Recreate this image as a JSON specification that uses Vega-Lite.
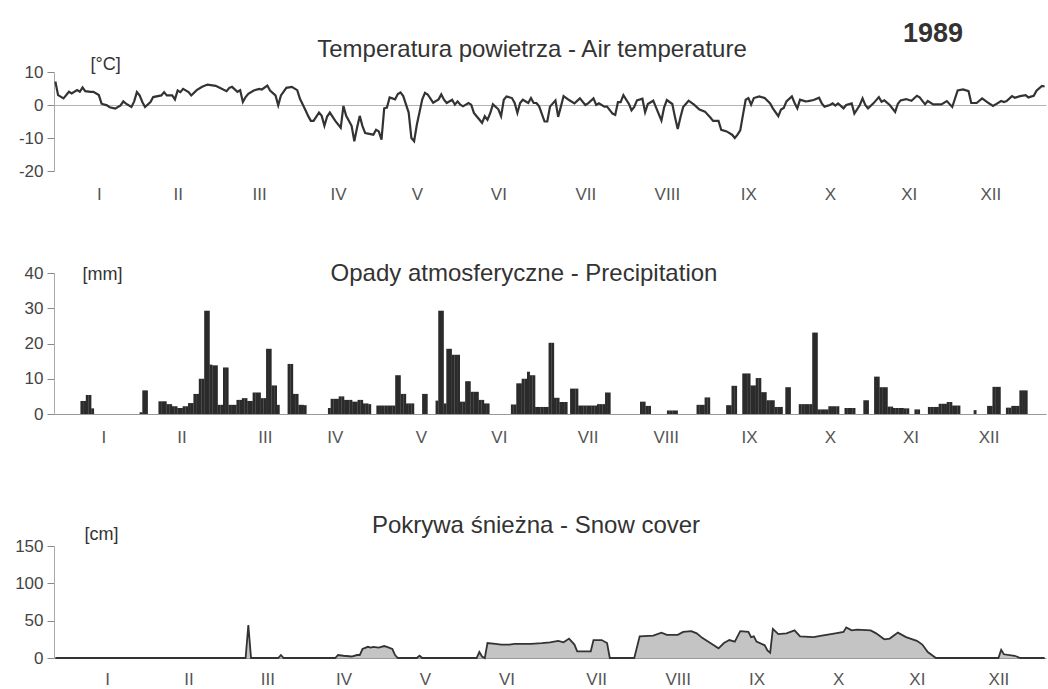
{
  "$schema": "https://vega.github.io/schema/vega-lite/v6.json",
  "background": "white",
  "padding": {"left": 14, "top": 20, "right": 0, "bottom": 0},
  "title": {"text": "1989", "anchor": "end", "fontSize": 27, "fontWeight": "bold", "color": "#333", "dx": -86, "offset": -10},
  "config": {
    "font": "Liberation Sans",
    "view": {"stroke": null},
    "title": {"fontSize": 24, "fontWeight": "normal", "color": "#333", "anchor": "middle"},
    "axis": {"labelFontSize": 17, "labelColor": "#444", "grid": false, "domainColor": "#aaa", "tickColor": "#888", "titleFontWeight": "normal", "titleFontSize": 18, "titleColor": "#333", "labelOverlap": false}
  },
  "spacing": 60,
  "datasets": {
    "temp": [
      {"day":1,"t":7.1},{"day":2,"t":3.0},{"day":4,"t":2.0},{"day":6,"t":4.0},{"day":7,"t":3.5},{"day":9,"t":4.5},{"day":10,"t":4.0},{"day":11,"t":5.3},{"day":12,"t":4.2},{"day":14,"t":4.0},{"day":15,"t":4.0},{"day":17,"t":3.0},{"day":18,"t":0.4},{"day":20,"t":-0.1},{"day":21,"t":-0.7},{"day":23,"t":-1.1},{"day":25,"t":-0.1},{"day":26,"t":1.1},{"day":27,"t":0.4},{"day":29,"t":-0.6},{"day":30,"t":1.1},{"day":31,"t":3.9},{"day":32,"t":2.9},{"day":33,"t":0.9},{"day":34,"t":-0.6},{"day":36,"t":0.9},{"day":37,"t":2.4},{"day":40,"t":2.9},{"day":41,"t":3.9},{"day":42,"t":2.9},{"day":44,"t":2.9},{"day":45,"t":1.7},{"day":46,"t":4.4},{"day":47,"t":3.9},{"day":48,"t":4.9},{"day":50,"t":3.9},{"day":51,"t":2.9},{"day":53,"t":4.5},{"day":55,"t":5.5},{"day":57,"t":6.2},{"day":60,"t":5.8},{"day":62,"t":5.0},{"day":64,"t":4.2},{"day":65,"t":5.2},{"day":66,"t":5.5},{"day":68,"t":4.0},{"day":69,"t":4.5},{"day":70,"t":0.9},{"day":71,"t":2.4},{"day":72,"t":3.4},{"day":74,"t":4.4},{"day":76,"t":4.9},{"day":77,"t":4.7},{"day":79,"t":5.9},{"day":80,"t":4.4},{"day":82,"t":2.9},{"day":83,"t":-0.1},{"day":84,"t":2.9},{"day":86,"t":5.2},{"day":88,"t":5.5},{"day":90,"t":4.5},{"day":91,"t":1.9},{"day":93,"t":-1.5},{"day":94,"t":-3.3},{"day":95,"t":-4.8},{"day":96,"t":-4.8},{"day":98,"t":-2.3},{"day":99,"t":-3.3},{"day":100,"t":-6.3},{"day":101,"t":-3.5},{"day":102,"t":-2.3},{"day":104,"t":-4.8},{"day":106,"t":-6.9},{"day":107,"t":-0.3},{"day":108,"t":-3.3},{"day":110,"t":-6.3},{"day":111,"t":-11},{"day":112,"t":-6.9},{"day":113,"t":-3.3},{"day":114,"t":-6.4},{"day":115,"t":-8.5},{"day":118,"t":-9},{"day":119,"t":-7.5},{"day":120,"t":-8},{"day":121,"t":-10.5},{"day":122,"t":-1},{"day":123,"t":-0.8},{"day":124,"t":2.3},{"day":126,"t":1.7},{"day":127,"t":3.3},{"day":128,"t":3.8},{"day":129,"t":2.7},{"day":131,"t":-2.3},{"day":132,"t":-10},{"day":133,"t":-11},{"day":134,"t":-6},{"day":136,"t":1.7},{"day":137,"t":3.7},{"day":138,"t":3.2},{"day":140,"t":0.7},{"day":142,"t":1.7},{"day":143,"t":3.2},{"day":144,"t":1.6},{"day":145,"t":0.6},{"day":147,"t":1.6},{"day":148,"t":0.1},{"day":149,"t":1.1},{"day":150,"t":0.1},{"day":151,"t":-0.4},{"day":153,"t":0.6},{"day":154,"t":0.1},{"day":155,"t":-2.4},{"day":156,"t":-3.4},{"day":158,"t":-5.4},{"day":159,"t":-3.4},{"day":160,"t":-4.5},{"day":161,"t":-2.5},{"day":162,"t":0.2},{"day":164,"t":-1.3},{"day":165,"t":-3.4},{"day":166,"t":1.6},{"day":167,"t":2.6},{"day":169,"t":2.1},{"day":170,"t":0.6},{"day":171,"t":-2.4},{"day":172,"t":0.6},{"day":173,"t":1.6},{"day":175,"t":0.6},{"day":176,"t":2.1},{"day":177,"t":0.6},{"day":178,"t":0.6},{"day":179,"t":-0.4},{"day":181,"t":-5},{"day":182,"t":-5},{"day":183,"t":-0.5},{"day":185,"t":1.4},{"day":186,"t":-3.6},{"day":187,"t":-0.5},{"day":188,"t":2.7},{"day":190,"t":1.5},{"day":192,"t":0.5},{"day":194,"t":2.0},{"day":196,"t":0},{"day":197,"t":0.5},{"day":199,"t":2.0},{"day":200,"t":0},{"day":201,"t":0.5},{"day":203,"t":-0.5},{"day":204,"t":-0.5},{"day":206,"t":-2.6},{"day":207,"t":-3},{"day":208,"t":0.9},{"day":209,"t":0.9},{"day":210,"t":3},{"day":212,"t":0.4},{"day":213,"t":-1.6},{"day":214,"t":-0.6},{"day":215,"t":1.4},{"day":217,"t":1.9},{"day":218,"t":-2.2},{"day":219,"t":0.3},{"day":221,"t":1.3},{"day":222,"t":-0.7},{"day":224,"t":-4.7},{"day":225,"t":-0.7},{"day":226,"t":1.5},{"day":228,"t":0.3},{"day":229,"t":-3.7},{"day":230,"t":-7.3},{"day":231,"t":-3.7},{"day":232,"t":-0.6},{"day":234,"t":1.3},{"day":236,"t":0.1},{"day":238,"t":-1.4},{"day":240,"t":-2},{"day":242,"t":-3.8},{"day":243,"t":-4.8},{"day":245,"t":-4.8},{"day":246,"t":-7.5},{"day":248,"t":-8},{"day":250,"t":-9},{"day":251,"t":-10},{"day":252,"t":-9},{"day":253,"t":-7.7},{"day":254,"t":-3},{"day":255,"t":1.6},{"day":256,"t":2.1},{"day":257,"t":0.1},{"day":258,"t":2.1},{"day":260,"t":2.6},{"day":262,"t":2.1},{"day":264,"t":0.5},{"day":265,"t":-1},{"day":267,"t":-3.4},{"day":268,"t":-1.4},{"day":269,"t":-0.9},{"day":270,"t":1.1},{"day":272,"t":2.6},{"day":273,"t":0.6},{"day":274,"t":-1},{"day":275,"t":1.6},{"day":277,"t":1.1},{"day":278,"t":1.2},{"day":280,"t":1.5},{"day":282,"t":2.2},{"day":283,"t":0.5},{"day":284,"t":-0.5},{"day":286,"t":0},{"day":287,"t":0.5},{"day":288,"t":-0.2},{"day":289,"t":0.5},{"day":291,"t":-1},{"day":292,"t":0},{"day":294,"t":0.5},{"day":295,"t":-2.6},{"day":297,"t":0},{"day":298,"t":2},{"day":299,"t":0},{"day":300,"t":-1},{"day":302,"t":0.5},{"day":304,"t":2.4},{"day":305,"t":1},{"day":306,"t":1.4},{"day":308,"t":0},{"day":310,"t":-2.1},{"day":311,"t":0.4},{"day":312,"t":1.4},{"day":314,"t":1.8},{"day":316,"t":1.3},{"day":318,"t":2.8},{"day":319,"t":2.3},{"day":321,"t":0.2},{"day":322,"t":1.2},{"day":324,"t":0.2},{"day":325,"t":0.2},{"day":327,"t":0.2},{"day":329,"t":1.2},{"day":331,"t":-0.6},{"day":332,"t":1.9},{"day":333,"t":4.4},{"day":335,"t":4.7},{"day":337,"t":4.2},{"day":338,"t":0.6},{"day":340,"t":0.6},{"day":342,"t":2.0},{"day":344,"t":0.8},{"day":346,"t":-0.3},{"day":347,"t":0.2},{"day":349,"t":1.2},{"day":350,"t":0.9},{"day":351,"t":1.2},{"day":353,"t":2.7},{"day":354,"t":2.2},{"day":356,"t":2.7},{"day":358,"t":3},{"day":359,"t":2.3},{"day":361,"t":2.8},{"day":362,"t":4.3},{"day":364,"t":5.8},{"day":365,"t":5.6}
    ],
    "precip": [
      {"day":9,"p":3.7},{"day":10,"p":3.7},{"day":11,"p":5.4},{"day":12,"p":5.4},{"day":13,"p":1.6},
      {"day":31,"p":0.5},{"day":32,"p":6.7},{"day":33,"p":6.7},
      {"day":38,"p":3.6},{"day":39,"p":3.6},{"day":40,"p":3.6},{"day":41,"p":2.8},{"day":42,"p":2.8},{"day":43,"p":2.2},{"day":44,"p":2.2},{"day":45,"p":1.7},{"day":46,"p":1.7},{"day":47,"p":2.2},{"day":48,"p":2.2},{"day":49,"p":3.1},{"day":50,"p":3.1},{"day":51,"p":5.7},{"day":52,"p":5.7},{"day":53,"p":10},{"day":54,"p":10},{"day":55,"p":29.3},{"day":56,"p":29.3},{"day":57,"p":14},{"day":58,"p":13.8},{"day":59,"p":13.8},{"day":60,"p":2.6},{"day":61,"p":2.6},{"day":62,"p":13.2},{"day":63,"p":13.2},{"day":64,"p":2.6},{"day":65,"p":2.6},{"day":66,"p":2.6},{"day":67,"p":4},{"day":68,"p":4},{"day":69,"p":4.5},{"day":70,"p":4.5},{"day":71,"p":3.7},{"day":72,"p":3.7},{"day":73,"p":6.1},{"day":74,"p":6.1},{"day":75,"p":6.1},{"day":76,"p":4.5},{"day":77,"p":4.5},{"day":78,"p":18.5},{"day":79,"p":18.5},{"day":80,"p":8.1},{"day":81,"p":8.1},{"day":82,"p":2.6},
      {"day":86,"p":14.2},{"day":87,"p":14.2},{"day":88,"p":5.7},{"day":89,"p":5.7},{"day":90,"p":2.6},{"day":91,"p":2.6},{"day":92,"p":2.5},
      {"day":101,"p":1.7},{"day":102,"p":4.3},{"day":103,"p":4.3},{"day":104,"p":4.3},{"day":105,"p":5},{"day":106,"p":5},{"day":107,"p":4},{"day":108,"p":4},{"day":109,"p":4},{"day":110,"p":3.5},{"day":111,"p":3.5},{"day":112,"p":4},{"day":113,"p":4},{"day":114,"p":3},{"day":115,"p":3},{"day":116,"p":2.8},
      {"day":119,"p":2.4},{"day":120,"p":2.4},{"day":121,"p":2.4},{"day":122,"p":2.4},{"day":123,"p":2.4},{"day":124,"p":2.4},{"day":125,"p":2.4},
      {"day":126,"p":11},{"day":127,"p":11},{"day":128,"p":5.7},{"day":129,"p":5.7},{"day":130,"p":3},{"day":131,"p":3},{"day":132,"p":3},
      {"day":136,"p":5.7},{"day":137,"p":5.7},
      {"day":141,"p":3.8},{"day":142,"p":29.3},{"day":143,"p":29.3},{"day":144,"p":3},{"day":145,"p":18.5},{"day":146,"p":18.5},{"day":147,"p":16.8},{"day":148,"p":16.8},{"day":149,"p":16.8},{"day":150,"p":3.5},{"day":151,"p":3.5},{"day":152,"p":9.3},{"day":153,"p":9.3},{"day":154,"p":6.3},{"day":155,"p":6.3},{"day":156,"p":6.3},{"day":157,"p":4},{"day":158,"p":4},{"day":159,"p":3},{"day":160,"p":3},
      {"day":169,"p":2.7},{"day":170,"p":2.7},{"day":171,"p":8.7},{"day":172,"p":8.7},{"day":173,"p":10},{"day":174,"p":10},{"day":175,"p":12},{"day":176,"p":11},{"day":177,"p":11},
      {"day":178,"p":2},{"day":179,"p":2},{"day":180,"p":2},{"day":181,"p":2},{"day":182,"p":2},{"day":183,"p":20.2},{"day":184,"p":20.2},{"day":185,"p":4.6},{"day":186,"p":4.6},{"day":187,"p":3.4},{"day":188,"p":3.4},{"day":189,"p":3.4},
      {"day":191,"p":7.2},{"day":192,"p":7.2},{"day":193,"p":7.2},{"day":194,"p":2.4},{"day":195,"p":2.4},{"day":196,"p":2.4},{"day":197,"p":2.4},{"day":198,"p":2.4},{"day":199,"p":2.4},{"day":200,"p":2.4},{"day":201,"p":2.8},{"day":202,"p":2.8},{"day":203,"p":2.8},{"day":204,"p":6.1},{"day":205,"p":6.1},
      {"day":217,"p":3.5},{"day":218,"p":3.5},{"day":219,"p":2.3},{"day":220,"p":2.3},
      {"day":227,"p":1},{"day":228,"p":1},{"day":229,"p":1},{"day":230,"p":1},
      {"day":238,"p":2.6},{"day":239,"p":2.6},{"day":240,"p":2.6},{"day":241,"p":4.7},{"day":242,"p":4.7},
      {"day":249,"p":2.5},{"day":250,"p":2.5},{"day":251,"p":8},{"day":252,"p":8},
      {"day":255,"p":11.5},{"day":256,"p":11.5},{"day":257,"p":11.5},{"day":258,"p":8.1},{"day":259,"p":8.1},{"day":260,"p":10.2},{"day":261,"p":10.2},{"day":262,"p":6.2},{"day":263,"p":6.2},{"day":264,"p":3.9},{"day":265,"p":3.9},{"day":266,"p":3.9},{"day":267,"p":2},{"day":268,"p":2},{"day":269,"p":2},
      {"day":271,"p":7.6},{"day":272,"p":7.6},
      {"day":276,"p":2.8},{"day":277,"p":2.8},{"day":278,"p":2.8},{"day":279,"p":2.8},{"day":280,"p":2.8},{"day":281,"p":23.1},{"day":282,"p":23.1},{"day":283,"p":1.3},{"day":284,"p":1.3},{"day":285,"p":1.3},{"day":286,"p":1.3},{"day":287,"p":2.2},{"day":288,"p":2.2},{"day":289,"p":2.2},{"day":290,"p":2.2},
      {"day":293,"p":1.7},{"day":294,"p":1.7},{"day":295,"p":1.7},{"day":296,"p":1.7},
      {"day":300,"p":3.9},{"day":301,"p":3.9},
      {"day":304,"p":10.6},{"day":305,"p":10.6},{"day":306,"p":7.6},{"day":307,"p":7.6},{"day":308,"p":7.6},{"day":309,"p":2.1},{"day":310,"p":2.1},{"day":311,"p":1.7},{"day":312,"p":1.7},{"day":313,"p":1.7},{"day":314,"p":1.7},{"day":315,"p":1.6},{"day":316,"p":1.6},
      {"day":319,"p":1.3},{"day":320,"p":1.3},
      {"day":324,"p":2},{"day":325,"p":2},{"day":326,"p":2},{"day":327,"p":2},{"day":328,"p":2.9},{"day":329,"p":2.9},{"day":330,"p":2.9},{"day":331,"p":3.4},{"day":332,"p":3.4},{"day":333,"p":2.4},{"day":334,"p":2.4},{"day":335,"p":2.4},
      {"day":341,"p":1.1},
      {"day":346,"p":2.3},{"day":347,"p":2.3},{"day":348,"p":7.7},{"day":349,"p":7.7},{"day":350,"p":7.7},
      {"day":353,"p":1.8},{"day":354,"p":1.8},{"day":355,"p":2.3},{"day":356,"p":2.3},{"day":357,"p":2.3},{"day":358,"p":6.7},{"day":359,"p":6.7},{"day":360,"p":6.7}
    ],
    "snow": [
      {"day":1,"s":0},{"day":71,"s":0},{"day":72,"s":44},{"day":73,"s":0},{"day":83,"s":0},{"day":84,"s":4},{"day":85,"s":0},{"day":104,"s":0},{"day":105,"s":4},{"day":107,"s":3},{"day":110,"s":2},{"day":112,"s":4},{"day":113,"s":4},{"day":114,"s":12},{"day":116,"s":15},{"day":117,"s":14},{"day":118,"s":15},{"day":120,"s":14},{"day":122,"s":16},{"day":123,"s":15},{"day":125,"s":12},{"day":126,"s":4},{"day":127,"s":0},{"day":134,"s":0},{"day":135,"s":3},{"day":136,"s":0},{"day":156,"s":0},{"day":157,"s":8},{"day":158,"s":2},{"day":159,"s":0},{"day":160,"s":20},{"day":163,"s":19},{"day":165,"s":18},{"day":168,"s":18},{"day":170,"s":19},{"day":172,"s":19},{"day":176,"s":19},{"day":180,"s":20},{"day":183,"s":21},{"day":186,"s":23},{"day":188,"s":21},{"day":190,"s":26},{"day":192,"s":18},{"day":193,"s":9},{"day":198,"s":9},{"day":199,"s":24},{"day":202,"s":24},{"day":204,"s":20},{"day":205,"s":0},{"day":214,"s":0},{"day":216,"s":29},{"day":221,"s":30},{"day":224,"s":34},{"day":226,"s":31},{"day":230,"s":31},{"day":232,"s":35},{"day":235,"s":36},{"day":237,"s":33},{"day":239,"s":27},{"day":242,"s":20},{"day":245,"s":13},{"day":247,"s":20},{"day":249,"s":24},{"day":251,"s":22},{"day":252,"s":29},{"day":253,"s":36},{"day":256,"s":35},{"day":257,"s":28},{"day":258,"s":29},{"day":259,"s":22},{"day":262,"s":17},{"day":263,"s":10},{"day":264,"s":7},{"day":265,"s":39},{"day":267,"s":32},{"day":270,"s":33},{"day":273,"s":37},{"day":275,"s":29},{"day":280,"s":28},{"day":283,"s":30},{"day":288,"s":33},{"day":291,"s":35},{"day":292,"s":41},{"day":294,"s":37},{"day":296,"s":38},{"day":301,"s":37},{"day":303,"s":33},{"day":306,"s":25},{"day":308,"s":26},{"day":311,"s":34},{"day":314,"s":28},{"day":318,"s":23},{"day":320,"s":18},{"day":322,"s":8},{"day":325,"s":0},{"day":348,"s":0},{"day":349,"s":11},{"day":350,"s":5},{"day":354,"s":3},{"day":356,"s":0},{"day":365,"s":0}
    ]
  },
  "vconcat": [
    {
      "width": 992,
      "height": 99,
      "title": {"text": "Temperatura powietrza - Air temperature", "offset": -7, "dx": -18},
      "data": {"name": "temp"},
      "mark": {"type": "line", "color": "#333", "strokeWidth": 2.2, "interpolate": "linear"},
      "encoding": {
        "x": {"field": "day", "type": "quantitative", "scale": {"domain": [0.5, 365.5], "nice": false, "zero": false},
              "axis": {"title": null, "values": [17,46,76,105,134,164,196,226,256,286,315,345], "labelExpr": "['I','II','III','IV','V','VI','VII','VIII','IX','X','XI','XII'][indexof([17,46,76,105,134,164,196,226,256,286,315,345], datum.value)]", "domain": false, "ticks": false, "labelPadding": 15, "labelColor": "#555", "minExtent": 30, "maxExtent": 30}},
        "y": {"field": "t", "type": "quantitative", "scale": {"domain": [-20, 10], "nice": false},
              "axis": {"values": [-20,-10,0,10], "tickCount": 4, "labelExpr": "'' + datum.value", "title": "[°C]", "titleAngle": 0, "titleAlign": "left", "titleBaseline": "alphabetic", "titleX": 36, "titleY": -3, "tickSize": 7, "labelPadding": 4,
                       "grid": true, "gridColor": "#b4b4b4", "gridWidth": 1, "gridOpacity": {"condition": {"test": "datum.value === 0", "value": 1}, "value": 0}}}
      }
    },
    {
      "width": 992,
      "height": 141,
      "title": {"text": "Opady atmosferyczne - Precipitation", "offset": -22, "dx": -26},
      "data": {"name": "precip"},
      "mark": {"type": "bar", "color": "#2b2b2b", "size": 2.9},
      "encoding": {
        "x": {"field": "day", "type": "quantitative", "scale": {"domain": [0.5, 365.5], "nice": false, "zero": false},
              "axis": {"title": null, "values": [17,46,77,103,135,164,197,226,257,287,317,346], "labelExpr": "['I','II','III','IV','V','VI','VII','VIII','IX','X','XI','XII'][indexof([17,46,77,103,135,164,197,226,257,287,317,346], datum.value)]", "domain": true, "domainColor": "#999", "ticks": false, "labelPadding": 15, "labelColor": "#555", "minExtent": 40, "maxExtent": 40}},
        "y": {"field": "p", "type": "quantitative", "scale": {"domain": [0, 40], "nice": false},
              "axis": {"values": [0,10,20,30,40], "title": "[mm]", "titleAngle": 0, "titleAlign": "left", "titleBaseline": "middle", "titleX": 28, "titleY": 1, "tickSize": 7, "labelPadding": 4}}
      }
    },
    {
      "width": 992,
      "height": 112,
      "title": {"text": "Pokrywa śnieżna - Snow cover", "offset": -13, "dx": -14},
      "data": {"name": "snow"},
      "mark": {"type": "area", "color": "#c4c4c4", "opacity": 1, "interpolate": "linear", "line": {"color": "#333", "strokeWidth": 1.8}},
      "encoding": {
        "x": {"field": "day", "type": "quantitative", "scale": {"domain": [0.5, 365.5], "nice": false, "zero": false},
              "axis": {"title": null, "values": [20,50,79,107,137,167,200,230,259,289,318,348], "labelExpr": "['I','II','III','IV','V','VI','VII','VIII','IX','X','XI','XII'][indexof([20,50,79,107,137,167,200,230,259,289,318,348], datum.value)]", "domain": true, "domainColor": "#999", "ticks": false, "labelPadding": 13, "labelColor": "#555"}},
        "y": {"field": "s", "type": "quantitative", "scale": {"domain": [0, 150], "nice": false},
              "axis": {"values": [0,50,100,150], "title": "[cm]", "titleAngle": 0, "titleAlign": "left", "titleBaseline": "middle", "titleX": 30, "titleY": -12, "tickSize": 7, "labelPadding": 4}}
      }
    }
  ]
}
